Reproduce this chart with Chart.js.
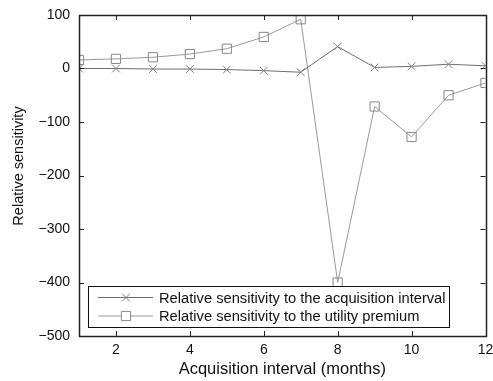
<!DOCTYPE html>
<html>
<head>
<meta charset="utf-8">
<script src="https://cdn.jsdelivr.net/npm/chart.js@4/dist/chart.umd.min.js"></script>
<style>
  html, body { margin: 0; padding: 0; background: #fff; }
  #wrap { width: 493px; height: 381px; }
</style>
</head>
<body>
<div id="wrap"><canvas id="myChart" width="493" height="381"></canvas></div>
<script>
var months = [1, 2, 3, 4, 5, 6, 7, 8, 9, 10, 11, 12];
var intervalSens = [0, 0, -1, -1, -2, -4, -7, 41, 2, 4, 8, 5];
var premiumSens = [16, 18, 21, 27, 37, 59, 92, -400, -71, -128, -50, -27];
var xTicks = [2, 4, 6, 8, 10, 12];
var yTicks = [100, 0, -100, -200, -300, -400, -500];
var yTitle = 'Relative sensitivity';

var FONT = "'Liberation Sans', Arial, Helvetica, sans-serif";

function toPoints(ys) {
    return months.map(function (m, i) { return { x: m, y: ys[i] }; });
}

// box around the plot with matlab-style inward ticks on all four sides
var boxPlugin = {
    id: 'boxFrame',
    afterDraw: function (chart) {
        var c = chart.ctx, a = chart.chartArea;
        var xs = chart.scales.x, ys = chart.scales.y;
        c.save();
        c.strokeStyle = '#222';
        c.lineWidth = 1;
        c.beginPath();
        xTicks.forEach(function (v) {
            var px = Math.round(xs.getPixelForValue(v)) + 0.5;
            c.moveTo(px, a.bottom); c.lineTo(px, a.bottom - 5);
            c.moveTo(px, a.top); c.lineTo(px, a.top + 5);
        });
        yTicks.forEach(function (v) {
            var py = Math.round(ys.getPixelForValue(v)) + 0.5;
            c.moveTo(a.left, py); c.lineTo(a.left + 5, py);
            c.moveTo(a.right, py); c.lineTo(a.right - 5, py);
        });
        c.stroke();
        c.lineWidth = 1.5;
        c.strokeRect(Math.round(a.left) + 0.5, Math.round(a.top) + 0.5,
            Math.round(a.right - a.left), Math.round(a.bottom - a.top));

        // vertical axis title, sits a little above the plot middle
        c.translate(18.5, 166);
        c.rotate(-Math.PI / 2);
        c.font = '14.5px ' + FONT;
        c.fillStyle = '#111';
        c.textAlign = 'center';
        c.textBaseline = 'middle';
        c.fillText(yTitle, 0, 0);
        c.restore();
    }
};

// legend box sitting inside the lower left of the plot
var legendPlugin = {
    id: 'innerLegend',
    afterDraw: function (chart) {
        var c = chart.ctx, a = chart.chartArea;
        var x0 = a.left + 9, y0 = 286, w = 361, h = 41;
        c.save();
        c.fillStyle = '#fff';
        c.fillRect(x0, y0, w, h);
        c.strokeStyle = '#111';
        c.lineWidth = 1;
        c.strokeRect(x0 + 0.5, y0 + 0.5, w, h);
        c.font = '14.7px ' + FONT;
        c.textBaseline = 'middle';
        chart.data.datasets.forEach(function (ds, i) {
            var ry = y0 + 11.5 + i * 18.5;
            c.strokeStyle = ds.borderColor;
            c.lineWidth = 1;
            c.beginPath();
            c.moveTo(x0 + 10, ry); c.lineTo(x0 + 65, ry);
            c.stroke();
            c.fillStyle = '#fff';
            c.strokeStyle = ds.pointBorderColor;
            Chart.helpers.drawPoint(c, {
                pointStyle: ds.pointStyle, radius: ds.pointRadius,
                borderWidth: 1
            }, x0 + 38, ry);
            c.fillStyle = '#111';
            c.fillText(ds.label, x0 + 71, ry + 1);
        });
        c.restore();
    }
};

var ctx = document.getElementById('myChart').getContext('2d');
var chart = new Chart(ctx, {
    type: 'line',
    data: {
        datasets: [{
            label: 'Relative sensitivity to the acquisition interval',
            data: toPoints(intervalSens),
            borderColor: '#6e6e6e',
            borderWidth: 1,
            pointStyle: 'crossRot',
            pointRadius: 5.5,
            pointBorderColor: '#808080',
            pointBorderWidth: 1,
            pointBackgroundColor: 'rgba(0,0,0,0)',
            tension: 0,
            fill: false
        }, {
            label: 'Relative sensitivity to the utility premium',
            data: toPoints(premiumSens),
            borderColor: '#9a9a9a',
            borderWidth: 1,
            pointStyle: 'rect',
            pointRadius: 6.5,
            pointBorderColor: '#888888',
            pointBorderWidth: 1,
            pointBackgroundColor: 'rgba(0,0,0,0)',
            tension: 0,
            fill: false
        }]
    },
    options: {
        responsive: false,
        animation: false,
        layout: { padding: { top: 15, right: 6, left: 0, bottom: 0 } },
        plugins: { legend: { display: false }, tooltip: { enabled: false } },
        scales: {
            x: {
                type: 'linear',
                min: 1,
                max: 12,
                afterBuildTicks: function (s) {
                    s.ticks = xTicks.map(function (v) { return { value: v }; });
                },
                afterFit: function (s) {
                    s.height = 45;
                    // let the last label run off the edge instead of shrinking the plot
                    s.paddingLeft = 0;
                    s.paddingRight = 0;
                },
                grid: { display: false, drawTicks: false },
                border: { display: false },
                ticks: { color: '#111', padding: 6, maxRotation: 0, font: { family: FONT, size: 14 } },
                title: {
                    display: true,
                    text: 'Acquisition interval (months)',
                    color: '#111',
                    padding: { top: 0, bottom: 2 },
                    font: { family: FONT, size: 16.5 }
                }
            },
            y: {
                min: -500,
                max: 100,
                afterBuildTicks: function (s) {
                    s.ticks = yTicks.map(function (v) { return { value: v }; });
                },
                afterFit: function (s) {
                    s.width = 79;
                    s.paddingTop = 0;
                    s.paddingBottom = 0;
                },
                grid: { display: false, drawTicks: false },
                border: { display: false },
                ticks: {
                    color: '#111', padding: 9,
                    font: { family: FONT, size: 14 },
                    callback: function (v) { return v < 0 ? '\u2212' + Math.abs(v) : String(v); }
                }
            }
        }
    },
    plugins: [boxPlugin, legendPlugin]
});
</script>
</body>
</html>
